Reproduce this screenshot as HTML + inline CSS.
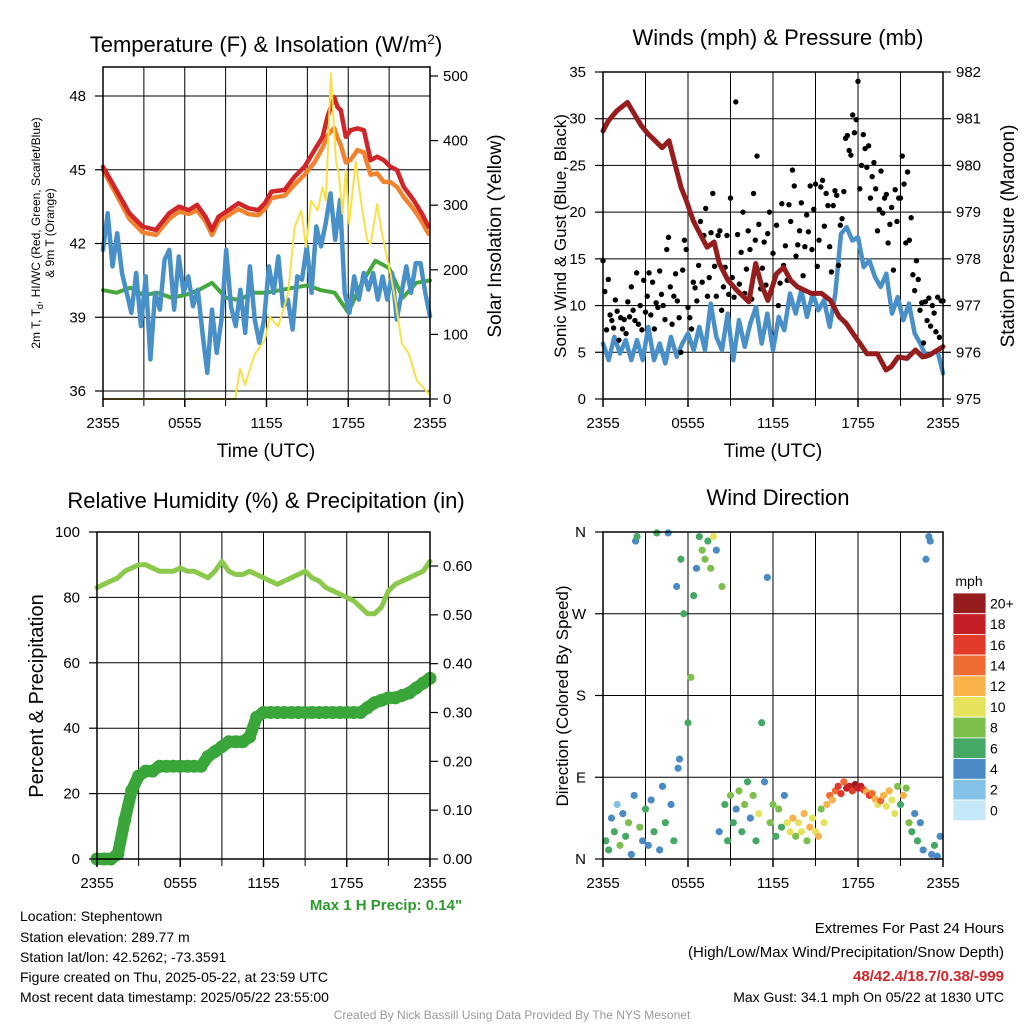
<!DOCTYPE html>
<html><head><meta charset="utf-8">
<style>
html,body{margin:0;padding:0;background:#fff;}
svg{display:block;font-family:"Liberation Sans",sans-serif;}
</style></head>
<body>
<svg id="fig" width="1024" height="1024" viewBox="0 0 1024 1024" xmlns="http://www.w3.org/2000/svg">
<rect x="0" y="0" width="1024" height="1024" fill="#fff"/>
<text x="266" y="52" font-size="22" text-anchor="middle">Temperature (F) &amp; Insolation (W/m<tspan dy="-8" font-size="14">2</tspan><tspan dy="8">)</tspan></text>
<text x="778" y="45" font-size="22" text-anchor="middle">Winds (mph) &amp; Pressure (mb)</text>
<text x="266" y="508" font-size="22" text-anchor="middle">Relative Humidity (%) &amp; Precipitation (in)</text>
<text x="778" y="505" font-size="22" text-anchor="middle">Wind Direction</text>
<text transform="translate(40,233) rotate(-90)" font-size="12" text-anchor="middle">2m T, T<tspan dy="3" font-size="9">d</tspan><tspan dy="-3">, HI/WC (Red, Green, Scarlet/Blue)</tspan></text>
<text transform="translate(54,233) rotate(-90)" font-size="12" text-anchor="middle">&amp; 9m T (Orange)</text>
<text transform="translate(501,236) rotate(-90)" font-size="19" text-anchor="middle">Solar Insolation (Yellow)</text>
<text x="266" y="457" font-size="19" text-anchor="middle">Time (UTC)</text>
<text transform="translate(566,236) rotate(-90)" font-size="17" text-anchor="middle">Sonic Wind &amp; Gust (Blue, Black)</text>
<text transform="translate(1014,236) rotate(-90)" font-size="19" text-anchor="middle">Station Pressure (Maroon)</text>
<text x="773" y="457" font-size="19" text-anchor="middle">Time (UTC)</text>
<text transform="translate(43,696) rotate(-90)" font-size="20" text-anchor="middle">Percent &amp; Precipitation</text>
<text transform="translate(568,696) rotate(-90)" font-size="17" text-anchor="middle">Direction (Colored By Speed)</text>
<text x="969" y="586" font-size="14" text-anchor="middle">mph</text>
<text x="386" y="910" font-size="15" font-weight="bold" fill="#2e9a2e" text-anchor="middle">Max 1 H Precip: 0.14"</text>
<g font-size="14">
<text x="20" y="921">Location: Stephentown</text>
<text x="20" y="942">Station elevation: 289.77 m</text>
<text x="20" y="962">Station lat/lon: 42.5262; -73.3591</text>
<text x="20" y="982">Figure created on Thu, 2025-05-22, at 23:59 UTC</text>
<text x="20" y="1002">Most recent data timestamp: 2025/05/22 23:55:00</text>
</g>
<g text-anchor="end">
<text x="1004" y="933" font-size="15">Extremes For Past 24 Hours</text>
<text x="1004" y="957" font-size="15">(High/Low/Max Wind/Precipitation/Snow Depth)</text>
<text x="1004" y="981" font-size="15" font-weight="bold" fill="#d3252a">48/42.4/18.7/0.38/-999</text>
<text x="1004" y="1002" font-size="14">Max Gust: 34.1 mph On 05/22 at 1830 UTC</text>
</g>
<text x="512" y="1019" font-size="12" fill="#999" text-anchor="middle">Created By Nick Bassill Using Data Provided By The NYS Mesonet</text>
<g id="plots"></g>
</svg>
<script>
// ---- data ----
const timeTicks = ["2355","0555","1155","1755","2355"];
const tempHours = [0,0.97,1.94,2.91,3.88,4.85,5.58,6.3,6.91,7.52,8,8.48,9.21,9.94,10.67,11.39,11.88,12.36,13.33,14.06,14.79,15.52,16.12,16.48,16.97,17.21,17.45,17.82,18.18,18.67,19.15,19.64,20.12,20.61,21.09,21.58,22.06,22.79,23.39,23.88];
const tempRed = [45.12,44.18,43.23,42.69,42.55,43.23,43.5,43.36,43.57,43.09,42.55,43.09,43.36,43.64,43.43,43.36,43.64,44.11,44.18,44.72,45.12,45.8,46.34,47.15,47.96,47.55,47.42,46.34,46.61,46.68,46.61,45.39,45.53,45.39,45.12,44.99,44.31,43.77,43.23,42.69];
const temp9m = [45.0,44.0,43.0,42.45,42.35,43.0,43.3,43.2,43.35,42.9,42.35,42.9,43.15,43.4,43.2,43.15,43.4,43.85,43.95,44.4,44.8,45.3,45.9,46.4,46.7,46.3,46.0,45.3,45.4,45.8,45.7,44.8,44.85,44.5,44.5,44.3,43.9,43.4,42.9,42.4];
const windChill = [41.74,43.23,41.07,42.42,40.80,39.99,39.18,40.80,38.64,40.66,37.28,39.99,39.31,41.34,41.74,39.31,41.47,39.99,40.66,39.45,40.12,38.36,36.74,39.31,37.55,38.91,41.74,39.45,38.64,40.12,38.36,41.07,38.91,37.96,38.91,41.07,39.99,41.47,39.45,39.72,38.50,40.66,40.53,41.88,39.99,42.69,41.88,42.82,44.04,42.15,43.77,39.99,39.18,40.66,39.72,40.80,40.12,40.80,39.72,40.66,39.72,40.80,38.91,39.99,41.07,39.99,41.20,41.20,39.99,39.04];
const dewpoint = [40.1,40.0,40.2,39.9,40.0,39.8,39.9,40.1,40.4,39.8,39.7,40.0,40.0,40.1,40.2,40.3,40.1,40.0,39.2,40.4,41.3,41.0,39.8,40.4,40.5];
const insolHours = [0,9.7,10.06,10.42,11.15,11.88,12.24,12.85,13.58,14.06,14.55,14.91,15.27,15.76,16.12,16.36,16.73,17.09,17.33,17.58,17.82,18.06,18.55,19.03,19.39,19.64,20.12,20.48,21.09,21.45,21.94,22.42,23.03,24];
const insolation = [0,0,47,22,70,91,127,112,163,266,292,235,307,292,328,307,504,370,344,287,354,271,367,292,246,240,302,256,194,153,86,71,29,6];
const tempTicks = [36,39,42,45,48];
const insolTicks = [0,100,200,300,400,500];

const sonicWind = [5.94,4.16,6.65,4.87,6.30,4.16,6.30,4.16,7.72,4.16,5.94,3.81,6.65,4.52,5.94,7.01,5.23,7.72,5.23,10.21,6.65,5.23,9.14,4.16,8.43,5.59,8.08,9.85,5.94,9.14,5.23,8.79,7.36,11.28,9.14,11.63,8.79,11.28,9.50,10.57,7.72,11.28,17.68,18.39,16.97,17.32,14.12,14.83,13.06,11.99,13.41,9.14,10.92,8.43,10.21,7.01,5.94,4.52,4.87,5.23,2.74];
const gusts = [14.8,11.5,7.4,12.8,9.0,8.4,7.6,10.6, 9.4,6.3,8.7,7.5,8.5,7.0,10.4,8.8, 12.0,9.5,8.4,13.5,8.0,10.0,7.4,12.7, 9.3,11.0,13.5,9.0,12.5,7.5,10.3,9.8, 13.7,11.2,10.0,8.5,16.0,17.3,12.0,8.0, 11.0,13.4,10.5,8.7,5.0,13.8,17.0,16.0, 9.8,8.7,7.5,12.5,11.9,10.5,14.3,19.0, 12.5,17.5,20.4,11.0,13.0,17.8,22.0,14.2, 11.0,17.5,18.0,9.5,12.0,14.1,17.5,11.2, 21.5,13.0,10.9,31.8,17.6,12.3,15.7,20.0, 11.3,13.9,18.0,16.0,10.7,22.0,17.0,26.0, 18.7,11.8,14.0,16.8,12.2,17.7,20.0,11.5, 15.6,13.0,18.6,10.0,12.4,20.9,14.3,16.4, 12.7,20.8,19.0,24.5,22.8,15.3,16.5,18.0, 21.0,13.2,16.3,19.7,17.9,22.8,16.0,20.3, 23.0,14.2,17.0,22.7,23.4,18.5,22.0,20.7, 16.3,13.6,20.7,22.3,21.8,14.3,18.6,19.3, 22.2,27.9,28.2,26.6,26.1,30.4,28.5,29.9, 34.0,22.5,25.0,28.3,26.8,24.8,27.1,21.5, 23.8,25.3,22.5,18.0,20.3,24.4,19.9,21.5, 21.9,16.7,18.7,20.5,13.8,22.4,19.0,21.5, 21.5,26.0,23.0,16.7,24.3,17.0,19.4,13.3, 11.6,14.8,12.8,9.5,10.3,6.0,10.4,8.4, 10.8,7.8,10.0,9.2,7.2,10.9,6.6,10.5, 10.5];
const pressHours = [0,0.37,0.98,1.72,2.21,2.70,3.19,3.68,4.17,4.66,5.02,5.51,5.88,6.37,6.86,7.35,7.84,8.21,8.82,9.44,10.29,10.78,11.15,11.64,12.25,12.75,13.24,13.73,14.22,14.71,15.44,16.05,16.67,17.16,17.65,18.14,18.63,19.36,19.98,20.34,20.83,21.45,22.06,22.55,23.04,24];
const pressure = [980.74,980.95,981.17,981.35,981.10,980.85,980.67,980.53,980.38,980.53,980.10,979.53,979.25,978.82,978.53,978.25,978.36,977.90,977.54,977.33,977.08,977.90,977.47,977.11,977.68,977.82,977.54,977.40,977.33,977.26,977.26,977.11,976.76,976.62,976.40,976.19,975.97,975.97,975.62,975.69,975.90,975.87,976.05,975.90,975.94,976.12];
const windTicks = [0,5,10,15,20,25,30,35];
const pressTicks = [975,976,977,978,979,980,981,982];

const relHum = [83,84,85,86,88,89,90,90,89,88,88,88,89,88,88,87,86,88,91,88,87,87,88,87,86,85,84,85,86,87,88,86,85,83,82,81,80,79,77,75,75,77,82,84,85,86,87,88,91];
const precip = [0,0,0,0.01,0.08,0.14,0.17,0.18,0.18,0.19,0.19,0.19,0.19,0.19,0.19,0.19,0.21,0.22,0.23,0.24,0.24,0.24,0.25,0.29,0.30,0.30,0.30,0.30,0.30,0.30,0.30,0.30,0.30,0.30,0.30,0.30,0.30,0.30,0.30,0.31,0.32,0.325,0.33,0.33,0.335,0.34,0.35,0.36,0.37];
const rhTicks = [0,20,40,60,80,100];
const precipTicks = ["0.00","0.10","0.20","0.30","0.40","0.50","0.60"];

const wdHour = [0.2,0.4,0.6,0.8,1.0,1.2,1.4,1.6,1.8,2.0,2.2,2.3,2.4,2.6,2.8,3.0,3.2,3.4,3.6,3.8,4.0,4.2,4.4,4.6,4.8,5.0,5.2,5.3,5.4,5.5,5.7,6.0,6.2,6.4,6.6,6.8,7.0,7.2,7.4,7.6,7.8,8.0,8.2,8.4,8.6,8.8,9.0,9.2,9.4,9.6,9.8,10.0,10.2,10.4,10.6,10.8,11.0,11.2,11.4,11.6,11.8,12.0,12.2,12.4,12.6,12.8,13.0,13.2,13.4,13.6,13.8,14.0,14.2,14.4,14.6,14.8,15.0,15.2,15.4,15.6,15.8,16.0,16.2,16.4,16.6,16.8,17.0,17.2,17.4,17.6,17.8,18.0,18.2,18.4,18.6,18.8,19.0,19.2,19.4,19.6,19.8,20.0,20.2,20.4,20.6,20.8,21.0,21.2,21.4,21.6,21.8,22.0,22.2,22.4,22.6,22.8,23.0,23.1,23.2,23.4,23.6,23.8];
const wdDir = [20,10,45,30,60,15,50,25,40,5,70,350,355,35,20,55,15,65,30,359,10,80,40,359,60,20,300,100,110,330,270,150,200,290,320,355,340,330,350,320,355,340,30,300,60,20,70,40,55,75,30,60,85,45,70,20,50,150,85,310,40,60,25,55,35,70,40,30,45,25,40,30,50,20,35,45,30,25,55,40,60,70,65,75,80,72,85,78,80,75,82,78,80,76,74,70,72,66,60,64,70,58,75,65,50,80,60,70,78,40,30,50,20,40,10,330,355,350,5,15,3,25];
const wdSpeed = [5,6,3,6,2,7,4,6,8,4,4,4,6,7,4,6,3,4,6,6,3,3,5,4,4,5,4,4,3,5,6,6,7,6,4,6,7,8,6,8,9,4,4,7,6,5,7,6,4,8,5,7,6,4,8,6,9,6,4,4,8,7,5,8,6,4,9,10,11,8,10,9,11,8,12,10,9,11,8,10,12,13,11,14,16,15,14,17,18,16,19,17,18,15,12,16,14,12,10,13,11,9,12,10,9,8,6,11,8,7,6,4,5,4,4,4,4,4,4,5,4,4];
const dirTicks = ["N","E","S","W","N"];
const speedLabels = ["0","2","4","6","8","10","12","14","16","18","20+"];
const speedColors = ["#c4e8f8","#83c1e6","#4a8bc6","#45a865","#7dbf4c","#e6e25c","#f7b24a","#ef6b32","#e23b2c","#c41f26","#951d1e"];

// ---- helpers ----
const NS = "http://www.w3.org/2000/svg";
const root = document.getElementById("plots");
function mk(tag, attrs, parent) {
  const e = document.createElementNS(NS, tag);
  for (const k in attrs) e.setAttribute(k, attrs[k]);
  (parent || root).appendChild(e);
  return e;
}
function lin(d0, d1, r0, r1) { return v => r0 + (v - d0) * (r1 - r0) / (d1 - d0); }
function pathFrom(arr, fx, fy) {
  return arr.map((v, i) => (i ? "L" : "M") + fx(i * 24 / (arr.length - 1)).toFixed(1) + "," + fy(v).toFixed(1)).join("");
}
function pathXY(hrs, arr, fx, fy) {
  return arr.map((v, i) => (i ? "L" : "M") + fx(hrs[i]).toFixed(1) + "," + fy(v).toFixed(1)).join("");
}
function frame(x0, x1, y0, y1, vgrid, hgrid, name) {
  const g = mk("g", {});
  
  
  vgrid.forEach(x => {
    const l = mk("line", {x1: x, x2: x, y1: y0, y2: y1 + 7, stroke: "#000", "stroke-width": 1}, g);
    
    
  });
  hgrid.forEach(y => {
    const l = mk("line", {x1: x0, x2: x1, y1: y, y2: y, stroke: "#000", "stroke-width": 1}, g);
    
    
  });
}
function border(x0, x1, y0, y1, name) {
  const r = mk("rect", {x: x0, y: y0, width: x1 - x0, height: y1 - y0, fill: "none", stroke: "#000", "stroke-width": 1.5});
  
  
}
function xAxis(fx, y, name) {
  timeTicks.forEach((t, i) => {
    const x = fx(i * 6);
    const tk = mk("line", {x1: x, x2: x, y1: y, y2: y + 8, stroke: "#000", "stroke-width": 1.5});
    
    
    const tx = mk("text", {x: x, y: y + 29, "font-size": 15, "text-anchor": "middle"});
    tx.textContent = t;
    
    
  });
}
function yLabels(ticks, fy, xEdge, side, name, vals) {
  ticks.forEach((t, i) => {
    const v = vals ? vals[i] : t;
    const y = fy(v);
    const dx = side === "left" ? -8 : 8;
    const tk = mk("line", {x1: xEdge, x2: xEdge + dx, y1: y, y2: y, stroke: "#000", "stroke-width": 1.2});
    
    
    const tx = mk("text", {x: side === "left" ? xEdge - 17 : xEdge + 13, y: y + 5, "font-size": 15, "text-anchor": side === "left" ? "end" : "start"});
    tx.textContent = t;
    
    
  });
}
function line(d, color, w, name) {
  const p = mk("path", {d: d, fill: "none", stroke: color, "stroke-width": w, "stroke-linejoin": "round", "stroke-linecap": "round"});
  
  
  return p;
}

// ---- Panel 1: temperature ----
(function () {
  const X0 = 103, X1 = 430, Y0 = 67, Y1 = 399;
  const fx = lin(0, 24, X0, X1);
  const fy = lin(36, 48, 391, 96);
  const fi = lin(0, 500, 399, 76);
  const vg = [3, 6, 9, 12, 15, 18, 21].map(fx);
  frame(X0, X1, Y0, Y1, vg, tempTicks.map(fy), "temp");
  line(pathFrom(dewpoint, fx, fy), "#45a83a", 4, "dewpoint-line");
  line(pathFrom(windChill, fx, fy), "#4a90c8", 4.5, "windchill-line");
  line(pathXY(tempHours, temp9m, fx, fy), "#f2832e", 4.5, "temp-9m-line");
  line(pathXY(tempHours, tempRed, fx, fy), "#d0262a", 4.5, "temp-2m-line");
  line(pathXY(insolHours, insolation, fx, fi), "#f7e04a", 2, "insolation-line");
  border(X0, X1, Y0, Y1, "temp");
  xAxis(fx, Y1, "temp");
  yLabels(tempTicks, fy, X0, "left", "temp-y");
  yLabels(insolTicks, fi, X1, "right", "insolation-y");
})();

// ---- Panel 2: wind & pressure ----
(function () {
  const X0 = 603, X1 = 943, Y0 = 72, Y1 = 399;
  const fx = lin(0, 24, X0, X1);
  const fy = lin(0, 35, Y1, Y0);
  const fp = lin(975, 982, Y1, Y0);
  const vg = [3, 6, 9, 12, 15, 18, 21].map(fx);
  frame(X0, X1, Y0, Y1, vg, [5, 10, 15, 20, 25, 30].map(fy), "wind");
  line(pathFrom(sonicWind, fx, fy), "#4a90c8", 4.5, "sonic-wind-line");
  const g = mk("g", {});
  
  
  gusts.forEach((v, i) => {
    const c = mk("circle", {cx: fx(i * 24 / (gusts.length - 1)), cy: fy(v), r: 2.7, fill: "#000"}, g);
    
    
  });
  line(pathXY(pressHours, pressure, fx, fp), "#951d1e", 5, "pressure-line");
  border(X0, X1, Y0, Y1, "wind");
  xAxis(fx, Y1, "wind");
  yLabels(windTicks, fy, X0, "left", "wind-y");
  yLabels(pressTicks, fp, X1, "right", "pressure-y");
})();

// ---- Panel 3: RH & precip ----
(function () {
  const X0 = 97, X1 = 430, Y0 = 532, Y1 = 859;
  const fx = lin(0, 24, X0, X1);
  const fy = lin(0, 100, Y1, Y0);
  const fp = lin(0, 0.6, Y1, 566);
  const vg = [3, 6, 9, 12, 15, 18, 21].map(fx);
  frame(X0, X1, Y0, Y1, vg, [20, 40, 60, 80].map(fy), "rh");
  line(pathFrom(relHum, fx, fy), "#8cc84b", 5, "relative-humidity-line");
  line(pathFrom(precip, fx, fp), "#3aa63a", 12, "precip-line");
  const g = mk("g", {});
  
  
  precip.forEach((v, i) => {
    const c = mk("circle", {cx: fx(i * 24 / (precip.length - 1)), cy: fp(v), r: 6.5, fill: "#3aa63a"}, g);
    
    
  });
  border(X0, X1, Y0, Y1, "rh");
  xAxis(fx, Y1, "rh");
  yLabels(rhTicks, fy, X0, "left", "rh-y");
  yLabels(precipTicks, fp, X1, "right", "precip-y", precipTicks.map(Number));
})();

// ---- Panel 4: wind direction ----
(function () {
  const X0 = 603, X1 = 943, Y0 = 532, Y1 = 859;
  const fx = lin(0, 24, X0, X1);
  const fy = lin(0, 360, Y1, Y0);
  const vg = [3, 6, 9, 12, 15, 18, 21].map(fx);
  frame(X0, X1, Y0, Y1, vg, [90, 180, 270].map(fy), "direction");
  const g = mk("g", {});
  
  
  wdHour.forEach((h, i) => {
    const idx = Math.min(10, Math.round(wdSpeed[i] / 2));
    const c = mk("circle", {cx: fx(h), cy: fy(wdDir[i]), r: 3.6, fill: speedColors[idx]}, g);
    
    
  });
  border(X0, X1, Y0, Y1, "direction");
  xAxis(fx, Y1, "direction");
  yLabels(dirTicks, fy, X0, "left", "direction-y", [0, 90, 180, 270, 360]);
  const cb = mk("g", {});
  
  
  const top = 593, h = 20.7;
  for (let k = 0; k < speedColors.length; k++) {
    const j = speedColors.length - 1 - k;
    const r = mk("rect", {x: 953, y: top + k * h, width: 33, height: h, fill: speedColors[j], stroke: "#fff", "stroke-width": 0.8}, cb);
    
    
    const t = mk("text", {x: 990, y: top + k * h + h / 2 + 5, "font-size": 14}, cb);
    t.textContent = speedLabels[j];
    
    
  }
})();
</script>
</body></html>
